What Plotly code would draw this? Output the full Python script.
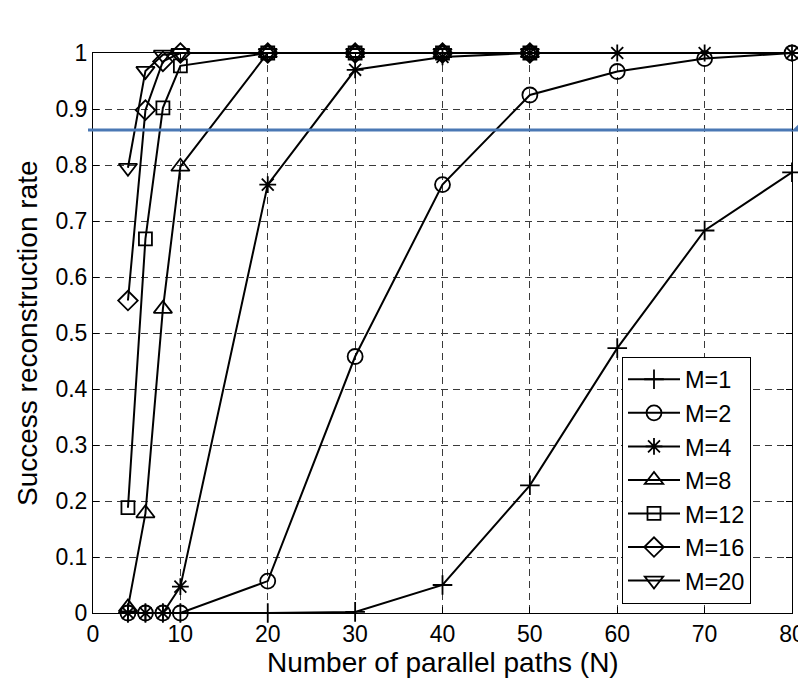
import plotly.graph_objects as go

N_long = [4, 6, 8, 10, 20, 30, 40, 50, 60, 70, 80]
N_short = [4, 6, 8, 10, 20, 30, 40, 50]

m1 = [0, 0, 0, 0, 0.0, 0.002, 0.05, 0.228, 0.473, 0.683, 0.787]
m2 = [0, 0, 0, 0, 0.057, 0.458, 0.765, 0.925, 0.967, 0.99, 1.0]
m4 = [0, 0, 0, 0.047, 0.765, 0.97, 0.993, 1.0, 1.0, 1.0, 1.0]
m8 = [0.01, 0.178, 0.543, 0.797, 1.0, 1.0, 1.0, 1.0]
m12 = [0.188, 0.668, 0.902, 0.977, 1.0, 1.0, 1.0, 1.0]
m16 = [0.558, 0.898, 0.985, 1.0, 1.0, 1.0, 1.0, 1.0]
m20 = [0.795, 0.968, 0.997, 1.0, 1.0, 1.0, 1.0, 1.0]

threshold = 0.8625
x_ticks = [0, 10, 20, 30, 40, 50, 60, 70, 80]
y_ticks = [0, 0.1, 0.2, 0.3, 0.4, 0.5, 0.6, 0.7, 0.8, 0.9, 1]

series = [
    ("M=1", N_long, m1, "cross-thin-open", 14),
    ("M=2", N_long, m2, "circle-open", 15),
    ("M=4", N_long, m4, "asterisk-open", 14),
    ("M=8", N_short, m8, "triangle-up-open", 16),
    ("M=12", N_short, m12, "square-open", 13),
    ("M=16", N_short, m16, "diamond-open", 15),
    ("M=20", N_short, m20, "triangle-down-open", 16),
]

fig = go.Figure()
for name, xs, ys, sym, size in series:
    fig.add_trace(go.Scatter(
        x=xs, y=ys, name=name, mode="lines+markers",
        line=dict(color="black", width=2),
        marker=dict(symbol=sym, size=size, color="black",
                    line=dict(color="black", width=1.8)),
        cliponaxis=False,
    ))

font_family = "Liberation Sans, Arial, sans-serif"
OFF = 8  # page body margin
W, H = 806, 680 - OFF
# plot area in screenshot pixels: x 93..792, y 53..613
PX0, PX1, PY0, PY1 = 93, 792, 53, 613
L, R = PX0 - OFF, W - (PX1 - OFF)
T, B = PY0 - OFF, H - (PY1 - OFF)
pw, ph = PX1 - PX0, PY1 - PY0

def px_x(p):  # screenshot px -> paper x
    return (p - PX0) / pw

def px_y(p):  # screenshot px -> paper y
    return (PY1 - p) / ph

# threshold line
fig.add_shape(type="line", xref="paper", yref="y",
              x0=px_x(88), x1=1.0, y0=threshold, y1=threshold,
              line=dict(color="#4a78b4", width=3), layer="above")
# callout wedge
fig.add_shape(type="path", xref="paper", yref="paper",
              path=f"M {px_x(791)} {px_y(131.5)} L {px_x(807)} {px_y(116)} L {px_x(807)} {px_y(131.5)} Z",
              fillcolor="#4a78b4", line=dict(width=0), layer="above")
# callout box edge
fig.add_shape(type="line", xref="paper", yref="paper",
              x0=px_x(804.5), x1=px_x(804.5), y0=px_y(84), y1=px_y(8),
              line=dict(color="#a3b1c6", width=2), layer="above")

# axis titles
fig.add_annotation(text="Number of parallel paths (N)", xref="paper", yref="paper",
                   x=0.5, y=px_y(662), xanchor="center", yanchor="middle",
                   showarrow=False, font=dict(family=font_family, size=28, color="black"))
fig.add_annotation(text="Success reconstruction rate", xref="paper", yref="paper",
                   x=px_x(27), y=0.5, xanchor="center", yanchor="middle", textangle=-90,
                   showarrow=False, font=dict(family=font_family, size=28, color="black"))

axis_common = dict(
    showline=True, linecolor="black", linewidth=1, mirror="ticks",
    ticks="inside", ticklen=6, tickcolor="black", tickwidth=1,
    showgrid=True, gridcolor="#3a3a3a", gridwidth=1, griddash="7px,5px",
    zeroline=False,
    tickfont=dict(family=font_family, size=23, color="black"),
)

fig.update_layout(
    width=W, height=H,
    margin=dict(l=L, r=R, t=T, b=B, autoexpand=False),
    paper_bgcolor="white", plot_bgcolor="white",
    font=dict(family=font_family, color="black"),
    showlegend=True,
    legend=dict(
        x=px_x(622), y=px_y(480), xanchor="left", yanchor="middle",
        bgcolor="white", bordercolor="black", borderwidth=1,
        font=dict(family=font_family, size=23.5, color="black"),
        tracegroupgap=0, itemwidth=52,
    ),
    xaxis=dict(range=[0, 80], tickvals=x_ticks, **axis_common),
    yaxis=dict(range=[0, 1], tickvals=y_ticks,
               ticktext=[f"{v:g}" for v in y_ticks], **axis_common),
)

fig.write_html("out.html")
